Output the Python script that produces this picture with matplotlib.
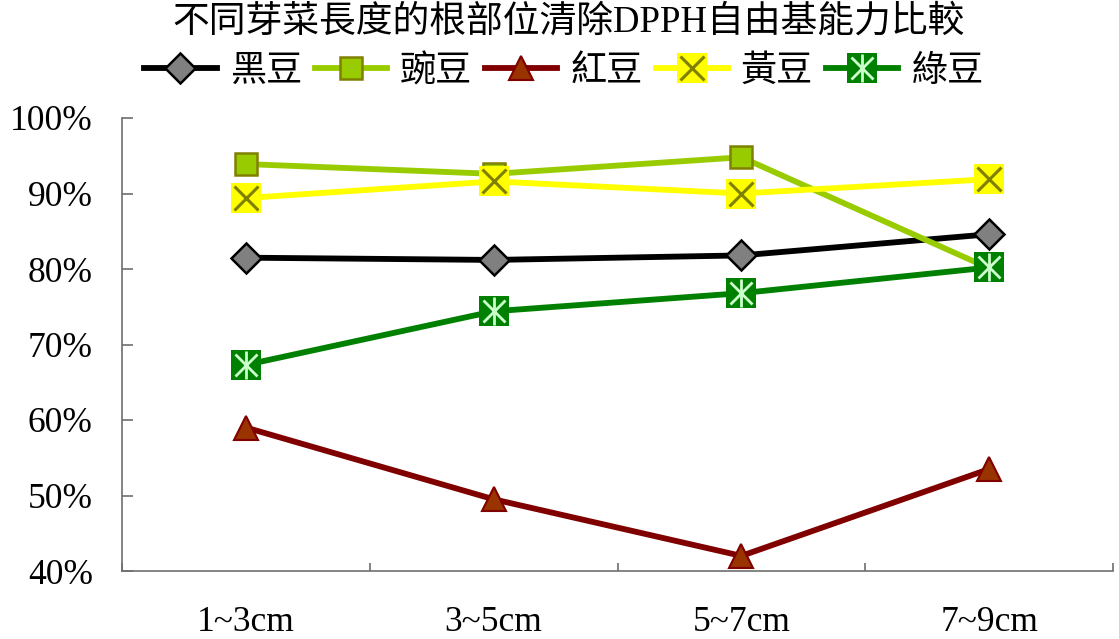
import matplotlib
matplotlib.use("Agg")
import matplotlib.pyplot as plt
from matplotlib.lines import Line2D
from matplotlib.ticker import FixedLocator, PercentFormatter

plt.rcParams['font.family'] = ['Liberation Serif', 'Noto Sans CJK TC', 'DejaVu Sans']

title = "不同芽菜長度的根部位清除DPPH自由基能力比較"
categories = ["1~3cm", "3~5cm", "5~7cm", "7~9cm"]
series_names = ["黑豆", "豌豆", "紅豆", "黃豆", "綠豆"]
black_bean = [81.5, 81.2, 81.8, 84.6]
pea = [93.9, 92.6, 94.8, 80.1]
red_bean = [59.0, 49.5, 42.0, 53.5]
soybean = [89.4, 91.6, 90.0, 91.9]
mung_bean = [67.3, 74.4, 76.8, 80.2]
yticks = [40, 50, 60, 70, 80, 90, 100]

W, H = 1119, 639
fig = plt.figure(figsize=(W / 100, H / 100), dpi=100)
ax = fig.add_axes([122 / W, 1 - 571 / H, (1113 - 122) / W, (571 - 118) / H])

x = list(range(len(categories)))
lw = 4.2
handles = []

# 黑豆
l1, = ax.plot(x, black_bean, color='black', lw=lw, marker='D', ms=15,
              mfc='#808080', mec='black', mew=1.8, zorder=3)
handles.append(l1)
# 豌豆
l2, = ax.plot(x, pea, color='#99cc00', lw=lw, marker='s', ms=16,
              mfc='#99cc00', mec='#808000', mew=1.8, zorder=4)
handles.append(l2)
# 紅豆
l3, = ax.plot(x, red_bean, color='#800000', lw=lw, marker='^', ms=17,
              mfc='#993300', mec='#800000', mew=1.5, zorder=5)
handles.append(l3)
# 黃豆
l4, = ax.plot(x, soybean, color='#ffff00', lw=lw, marker='s', ms=21,
              mfc='#ffff00', mec='#ffff00', mew=0, zorder=6)
l4b, = ax.plot(x, soybean, ls='none', marker='x', ms=17, mec='#808000',
               mew=2.2, zorder=6.1)
handles.append((l4, l4b))
# 綠豆
l5, = ax.plot(x, mung_bean, color='#008000', lw=lw, marker='s', ms=21,
              mfc='#008000', mec='#008000', mew=0, zorder=7)
l5b, = ax.plot(x, mung_bean, ls='none', marker='x', ms=16, mec='#ccffcc',
               mew=2.0, zorder=7.1)
l5c, = ax.plot(x, mung_bean, ls='none', marker='|', ms=20, mec='#ccffcc',
               mew=2.0, zorder=7.2)
handles.append((l5, l5b, l5c))

ax.set_xlim(-0.5, len(categories) - 0.5)
ax.set_ylim(40, 100)
ax.set_xticks(x)
ax.set_xticklabels(categories)
ax.xaxis.set_minor_locator(FixedLocator([i - 0.5 for i in range(len(categories) + 1)]))
ax.tick_params(axis='x', which='major', length=0, pad=25, labelsize=25.5)
ax.tick_params(axis='x', which='minor', direction='in', length=5.5, width=1.2, color='#6e6e6e')
ax.set_yticks(yticks)
ax.yaxis.set_major_formatter(PercentFormatter(decimals=0))
ax.tick_params(axis='y', direction='in', length=8, width=1.2, color='#6e6e6e', pad=21, labelsize=25.5)

for s in ['top', 'right']:
    ax.spines[s].set_visible(False)
for s in ['left', 'bottom']:
    ax.spines[s].set_color('#6e6e6e')
    ax.spines[s].set_linewidth(1.2)

fig.text(569 / W, 1 - 22 / H, title, ha='center', va='center', fontsize=26.5)
fig.legend(handles, series_names, loc='center', bbox_to_anchor=(564 / W, 1 - 72 / H),
           ncol=5, frameon=False, fontsize=26, handlelength=2.0, handletextpad=0.36,
           columnspacing=0.36, borderaxespad=0, borderpad=0)

fig.savefig("out.png", dpi=100)
